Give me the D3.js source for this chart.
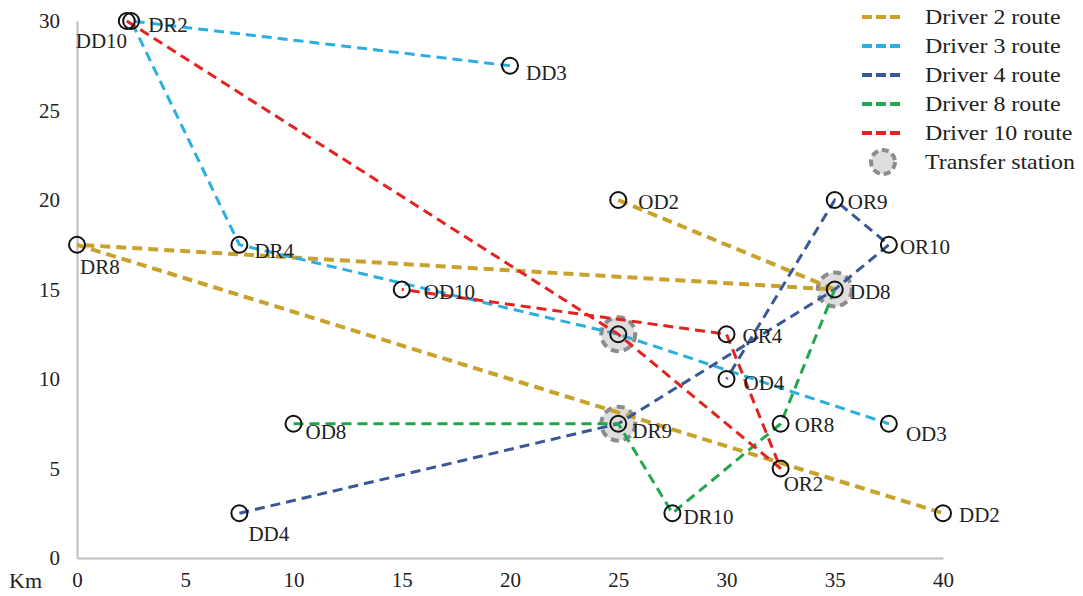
<!DOCTYPE html>
<html>
<head>
<meta charset="utf-8">
<script src="https://cdn.jsdelivr.net/npm/d3@7"></script>
<style>
  html, body { margin: 0; padding: 0; background: #fff; }
  svg text { font-family: "Liberation Serif", "Times New Roman", serif; fill: #222; }
</style>
</head>
<body>
<svg id="chart" width="1083" height="596"></svg>
<script>
// Stations (km coordinates)
const pointNames = ["DD10", "DR2", "DD3", "DR4", "DR8", "OD10", "OD2", "OR9", "OR10", "DD8",
                    "TS", "OR4", "OD4", "OD3", "OD8", "DR9", "OR8", "OR2", "DR10", "DD4", "DD2"];
const pointX = [2.3, 2.5, 20, 7.5, 0, 15, 25, 35, 37.5, 35,
                25, 30, 30, 37.5, 10, 25, 32.5, 32.5, 27.5, 7.5, 40];
const pointY = [30, 30, 27.5, 17.5, 17.5, 15, 20, 20, 17.5, 15,
                12.5, 12.5, 10, 7.5, 7.5, 7.5, 7.5, 5, 2.5, 2.5, 2.5];

// Transfer stations
const transferStations = ["TS", "DR9", "DD8"];

// Driver routes as sequences of station names
const routeNames = ["Driver 2 route", "Driver 3 route", "Driver 4 route", "Driver 8 route", "Driver 10 route"];
const routeStops = [
  [["OD2", "DD8", "DR8", "DD2"]],
  [["DD3", "DR2", "DR4", "TS", "OD3"]],
  [["DD4", "DR9", "DD8", "OR10", "OR9", "OD4"]],
  [["OD8", "DR9", "DR10", "OR8", "DD8"]],
  [["DD10", "TS", "OR2", "OR4", "OD10"]]
];

// Axis ticks
const xTicks = [0, 5, 10, 15, 20, 25, 30, 35, 40];
const yTicks = [0, 5, 10, 15, 20, 25, 30];
const xUnit = "Km";

// ---- styling ----
const routeColors = ["#C9A22C", "#2AB0E0", "#3A5896", "#22A64E", "#E2231F"];
const routeWidths = [4, 3, 3, 3, 3];
// label placement relative to each station (dx, dy of text start / baseline)
const labelOffset = {
  DD10: [-51, 27], DR2: [17, 11], DD3: [16, 14], DR4: [15, 13], DR8: [3, 29],
  OD10: [22, 9], OD2: [20, 9], OR9: [13, 9], OR10: [11, 9], DD8: [15, 9],
  TS: null, OR4: [16, 9], OD4: [17, 11], OD3: [17, 17], OD8: [12, 15],
  DR9: [14, 14], OR8: [14, 8], OR2: [3, 22], DR10: [11, 11], DD4: [9, 28], DD2: [16, 9]
};

const svg = d3.select("#chart");
const x = d3.scaleLinear().domain([0, 40]).range([77, 943]);
const y = d3.scaleLinear().domain([0, 30]).range([558, 21]);

const pos = {};
pointNames.forEach((n, i) => { pos[n] = [pointX[i], pointY[i]]; });

// Axes
const xAxis = svg.append("g").attr("transform", `translate(0,${y(0)})`)
  .call(d3.axisBottom(x).tickValues(xTicks).tickSize(0).tickPadding(14));
const yAxis = svg.append("g").attr("transform", `translate(${x(0)},0)`)
  .call(d3.axisLeft(y).tickValues(yTicks).tickSize(0).tickPadding(17));
[xAxis, yAxis].forEach(g => {
  g.select(".domain").attr("stroke", "#bdbdbd").attr("stroke-width", 2);
  g.selectAll("text").style("font-family", "Liberation Serif, serif")
    .style("font-size", "21px").attr("fill", "#222");
});
svg.append("text").attr("x", 9).attr("y", y(0) + 30)
  .style("font-size", "22px").text(xUnit);

// Transfer station halos (behind routes)
svg.append("g").selectAll("circle").data(transferStations).join("circle")
  .attr("cx", d => x(pos[d][0])).attr("cy", d => y(pos[d][1])).attr("r", 17)
  .attr("fill", "#dedede").attr("stroke", "#8c8c8c").attr("stroke-width", 4)
  .attr("stroke-dasharray", "8,5");

// Routes
const line = d3.line().x(d => x(pos[d][0])).y(d => y(pos[d][1]));
routeStops.forEach((paths, i) => {
  svg.append("g").selectAll("path").data(paths).join("path")
    .attr("d", line).attr("fill", "none")
    .attr("stroke", routeColors[i]).attr("stroke-width", routeWidths[i])
    .attr("stroke-dasharray", "10,6");
});

// Station markers
svg.append("g").selectAll("circle").data(pointNames).join("circle")
  .attr("cx", d => x(pos[d][0])).attr("cy", d => y(pos[d][1])).attr("r", 8)
  .attr("fill", "none").attr("stroke", "#111").attr("stroke-width", 2);

// Station labels
svg.append("g").selectAll("text").data(pointNames.filter(n => labelOffset[n])).join("text")
  .attr("x", d => x(pos[d][0]) + labelOffset[d][0])
  .attr("y", d => y(pos[d][1]) + labelOffset[d][1])
  .style("font-size", "21px").text(d => d);

// Legend
const legend = svg.append("g");
const legendY0 = 17, legendStep = 29;
const legendText = (ly, s) => legend.append("text")
  .attr("transform", `translate(925,${ly + 7}) scale(1.14,1)`)
  .style("font-size", "21px").text(s);
routeNames.forEach((name, i) => {
  const ly = legendY0 + i * legendStep;
  legend.append("line").attr("x1", 862).attr("x2", 903).attr("y1", ly).attr("y2", ly)
    .attr("stroke", routeColors[i]).attr("stroke-width", 4).attr("stroke-dasharray", "10,4");
  legendText(ly, name);
});
const tsY = legendY0 + routeNames.length * legendStep;
legend.append("circle").attr("cx", 883).attr("cy", tsY).attr("r", 12)
  .attr("fill", "#dedede").attr("stroke", "#8c8c8c").attr("stroke-width", 4)
  .attr("stroke-dasharray", "7,4");
legendText(tsY, "Transfer station");
</script>
</body>
</html>
